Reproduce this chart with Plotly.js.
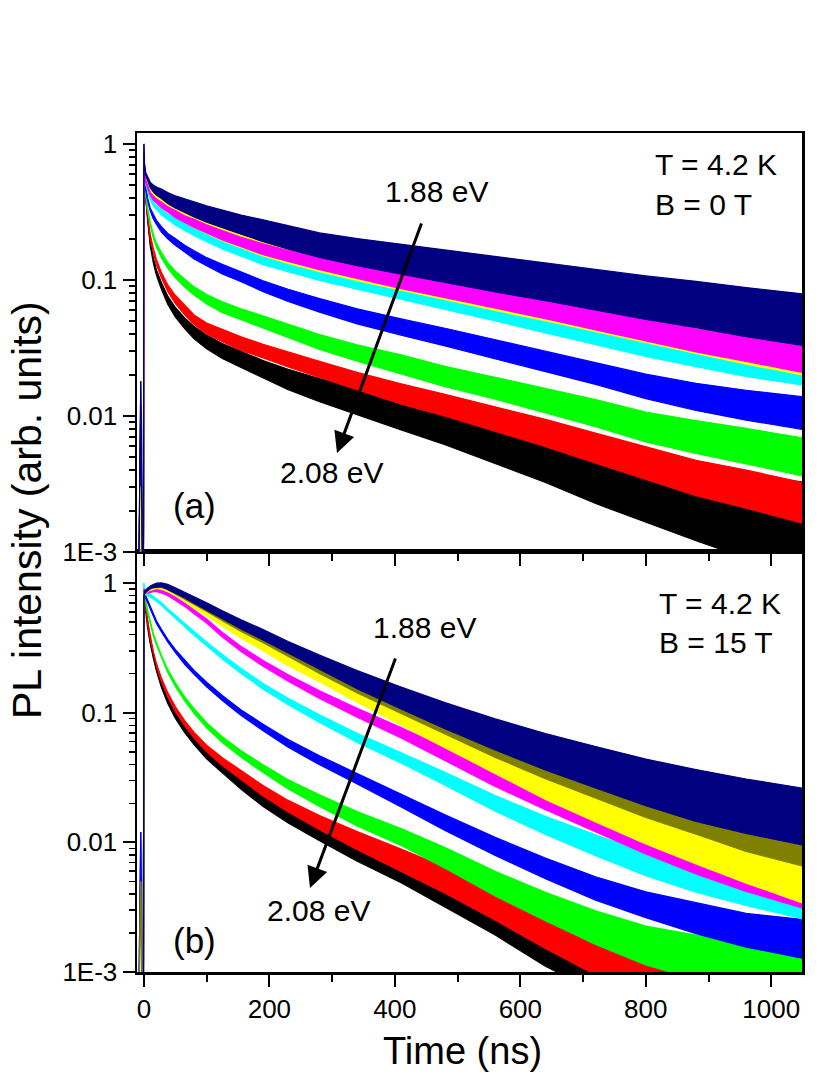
<!DOCTYPE html>
<html>
<head>
<meta charset="utf-8">
<script src="https://cdn.plot.ly/plotly-3.0.1.min.js"></script>
<style>html,body{margin:0;padding:0;background:#fff;}#chart{width:830px;height:1075px;}</style>
</head>
<body>
<div id="chart"></div>
<script>
// Time grid (ns)
const time = [-10, -5, -1, 0, 1, 3, 6, 10, 15, 20, 28, 38, 50, 65, 80, 100, 125, 155, 190, 230, 280, 340, 410, 480, 560, 640, 720, 800, 880, 960, 1050];

// Series labels (photon energy), 2.08 eV ... 1.88 eV
const energies = ['2.08 eV', '2.055 eV', '2.03 eV', '2.005 eV', '1.98 eV', '1.955 eV', '1.93 eV', '1.905 eV', '1.88 eV'];
const colors = ['#000000', '#FF0000', '#00FF00', '#0000FF', '#00FFFF', '#FF00FF', '#FFFF00', '#808000', '#000080'];

// ---------- Panel (a): B = 0 T, mean PL intensity ----------
const a_black   = [1e-4, 1e-4, 1e-4, 0.65, 0.5, 0.4, 0.27, 0.185, 0.14, 0.113, 0.09, 0.071, 0.058, 0.048, 0.041, 0.035, 0.03, 0.026, 0.022, 0.0185, 0.0155, 0.0128, 0.0103, 0.0083, 0.0063, 0.0048, 0.0036, 0.0028, 0.0022, 0.0018, 0.0015];
const a_red     = [1e-4, 1e-4, 1e-4, 0.65, 0.5, 0.41, 0.29, 0.21, 0.165, 0.135, 0.108, 0.087, 0.072, 0.06, 0.051, 0.044, 0.039, 0.034, 0.03, 0.026, 0.022, 0.018, 0.0145, 0.012, 0.0095, 0.0075, 0.0058, 0.0045, 0.0035, 0.0029, 0.0023];
const a_green   = [1e-4, 1e-4, 1e-4, 0.66, 0.52, 0.43, 0.33, 0.26, 0.21, 0.18, 0.152, 0.128, 0.11, 0.095, 0.083, 0.072, 0.063, 0.056, 0.049, 0.042, 0.035, 0.029, 0.024, 0.0195, 0.016, 0.013, 0.0105, 0.0083, 0.007, 0.006, 0.005];
const a_blue    = [1e-4, 0.012, 1e-4, 0.68, 0.55, 0.47, 0.39, 0.33, 0.29, 0.265, 0.235, 0.21, 0.19, 0.17, 0.153, 0.136, 0.12, 0.105, 0.09, 0.077, 0.065, 0.054, 0.045, 0.038, 0.031, 0.025, 0.0205, 0.0165, 0.0138, 0.012, 0.0105];
const a_cyan    = [1e-4, 1e-4, 1e-4, 0.7, 0.58, 0.51, 0.45, 0.4, 0.36, 0.34, 0.315, 0.29, 0.268, 0.245, 0.227, 0.205, 0.183, 0.162, 0.142, 0.126, 0.11, 0.096, 0.082, 0.07, 0.058, 0.048, 0.04, 0.033, 0.028, 0.024, 0.021];
const a_magenta = [1e-4, 1e-4, 1e-4, 0.75, 0.6, 0.53, 0.48, 0.43, 0.4, 0.38, 0.355, 0.33, 0.305, 0.28, 0.26, 0.237, 0.213, 0.19, 0.168, 0.15, 0.132, 0.115, 0.098, 0.085, 0.072, 0.061, 0.051, 0.043, 0.036, 0.031, 0.026];
const a_yellow  = [1e-4, 0.003, 1e-4, 0.78, 0.62, 0.55, 0.5, 0.45, 0.42, 0.4, 0.372, 0.345, 0.32, 0.294, 0.272, 0.248, 0.223, 0.2, 0.176, 0.157, 0.138, 0.12, 0.103, 0.089, 0.075, 0.064, 0.054, 0.045, 0.038, 0.032, 0.027];
const a_olive   = [1e-4, 1e-4, 1e-4, 0.85, 0.65, 0.57, 0.52, 0.47, 0.43, 0.41, 0.385, 0.36, 0.335, 0.31, 0.29, 0.265, 0.24, 0.215, 0.19, 0.168, 0.148, 0.13, 0.113, 0.099, 0.086, 0.074, 0.064, 0.055, 0.048, 0.042, 0.036];
const a_navy    = [1e-4, 0.018, 1e-4, 1.0, 0.7, 0.6, 0.55, 0.5, 0.47, 0.45, 0.43, 0.4, 0.375, 0.35, 0.33, 0.305, 0.28, 0.255, 0.23, 0.205, 0.18, 0.16, 0.142, 0.126, 0.11, 0.097, 0.085, 0.074, 0.066, 0.058, 0.051];

// Panel (a): noise band half-width (decades)
const a_black_n   = [0, 0, 0, 0, 0.01, 0.01, 0.01, 0.015, 0.02, 0.02, 0.025, 0.03, 0.035, 0.04, 0.045, 0.05, 0.055, 0.06, 0.065, 0.075, 0.085, 0.1, 0.115, 0.13, 0.15, 0.17, 0.2, 0.23, 0.26, 0.3, 0.34];
const a_red_n     = [0, 0, 0, 0, 0.01, 0.01, 0.01, 0.015, 0.015, 0.02, 0.02, 0.025, 0.03, 0.035, 0.035, 0.04, 0.045, 0.05, 0.05, 0.055, 0.06, 0.065, 0.075, 0.08, 0.09, 0.1, 0.11, 0.12, 0.13, 0.14, 0.15];
const a_green_n   = [0, 0, 0, 0, 0.01, 0.01, 0.01, 0.01, 0.015, 0.015, 0.02, 0.02, 0.025, 0.03, 0.03, 0.035, 0.04, 0.04, 0.045, 0.05, 0.055, 0.06, 0.07, 0.075, 0.08, 0.09, 0.1, 0.11, 0.12, 0.13, 0.14];
const a_blue_n    = [0, 0, 0, 0, 0.01, 0.01, 0.01, 0.01, 0.015, 0.015, 0.02, 0.02, 0.025, 0.025, 0.03, 0.03, 0.035, 0.035, 0.04, 0.045, 0.05, 0.055, 0.06, 0.065, 0.07, 0.075, 0.08, 0.09, 0.1, 0.11, 0.12];
const a_cyan_n    = [0, 0, 0, 0, 0.01, 0.01, 0.01, 0.01, 0.015, 0.015, 0.02, 0.02, 0.025, 0.025, 0.03, 0.03, 0.035, 0.035, 0.04, 0.04, 0.045, 0.05, 0.055, 0.06, 0.065, 0.07, 0.075, 0.08, 0.085, 0.09, 0.095];
const a_magenta_n = [0, 0, 0, 0, 0.01, 0.01, 0.01, 0.01, 0.015, 0.015, 0.02, 0.02, 0.025, 0.025, 0.03, 0.03, 0.035, 0.035, 0.04, 0.04, 0.045, 0.05, 0.055, 0.06, 0.065, 0.07, 0.075, 0.08, 0.085, 0.09, 0.095];
const a_yellow_n  = [0, 0, 0, 0, 0.01, 0.01, 0.01, 0.015, 0.02, 0.025, 0.03, 0.035, 0.04, 0.045, 0.05, 0.055, 0.06, 0.065, 0.07, 0.075, 0.08, 0.085, 0.09, 0.095, 0.1, 0.105, 0.11, 0.115, 0.12, 0.125, 0.13];
const a_olive_n   = [0, 0, 0, 0, 0.01, 0.01, 0.01, 0.015, 0.02, 0.025, 0.03, 0.035, 0.04, 0.045, 0.05, 0.055, 0.06, 0.065, 0.07, 0.075, 0.08, 0.085, 0.09, 0.095, 0.1, 0.11, 0.12, 0.13, 0.14, 0.15, 0.16];
const a_navy_n    = [0, 0, 0, 0, 0.01, 0.01, 0.015, 0.02, 0.025, 0.03, 0.035, 0.04, 0.045, 0.05, 0.055, 0.06, 0.065, 0.07, 0.08, 0.085, 0.09, 0.1, 0.11, 0.12, 0.13, 0.14, 0.15, 0.16, 0.17, 0.18, 0.19];

// ---------- Panel (b): B = 15 T, mean PL intensity ----------
const b_black   = [1e-4, 1e-4, 1e-4, 0.85, 0.76, 0.61, 0.46, 0.35, 0.27, 0.215, 0.162, 0.123, 0.095, 0.074, 0.06, 0.047, 0.037, 0.028, 0.021, 0.0158, 0.0118, 0.0085, 0.006, 0.0041, 0.0026, 0.0016, 0.0011, 0.0008, 0.0006, 0.0005, 0.0004];
const b_red     = [1e-4, 1e-4, 1e-4, 0.85, 0.78, 0.65, 0.5, 0.38, 0.29, 0.235, 0.18, 0.138, 0.107, 0.083, 0.067, 0.053, 0.042, 0.033, 0.025, 0.019, 0.0142, 0.0103, 0.0073, 0.0051, 0.0033, 0.0021, 0.0014, 0.001, 0.0008, 0.0007, 0.0006];
const b_green   = [1e-4, 1e-4, 1e-4, 0.85, 0.8, 0.71, 0.6, 0.49, 0.4, 0.34, 0.27, 0.21, 0.165, 0.128, 0.103, 0.08, 0.062, 0.048, 0.037, 0.028, 0.021, 0.0152, 0.011, 0.0076, 0.0048, 0.0032, 0.0022, 0.0016, 0.0013, 0.0011, 0.001];
const b_blue    = [1e-4, 0.012, 1e-4, 0.85, 0.82, 0.78, 0.72, 0.64, 0.56, 0.5, 0.43, 0.36, 0.3, 0.245, 0.205, 0.165, 0.13, 0.1, 0.077, 0.058, 0.043, 0.031, 0.021, 0.0142, 0.0093, 0.0063, 0.0044, 0.0033, 0.0026, 0.0021, 0.0018];
const b_cyan    = [1e-4, 1e-4, 1e-4, 1.0, 0.85, 0.83, 0.82, 0.8, 0.77, 0.74, 0.69, 0.62, 0.55, 0.47, 0.41, 0.34, 0.27, 0.21, 0.16, 0.122, 0.09, 0.064, 0.045, 0.031, 0.02, 0.0135, 0.0095, 0.0068, 0.0052, 0.0042, 0.0034];
const b_magenta = [1e-4, 1e-4, 1e-4, 0.9, 0.85, 0.85, 0.86, 0.87, 0.88, 0.88, 0.86, 0.82, 0.76, 0.68, 0.6, 0.51, 0.4, 0.31, 0.24, 0.185, 0.138, 0.1, 0.07, 0.048, 0.031, 0.021, 0.0145, 0.01, 0.0072, 0.0054, 0.0041];
const b_yellow  = [1e-4, 1e-4, 1e-4, 0.8, 0.83, 0.85, 0.88, 0.9, 0.92, 0.93, 0.92, 0.89, 0.83, 0.75, 0.67, 0.58, 0.49, 0.4, 0.32, 0.25, 0.19, 0.135, 0.092, 0.063, 0.041, 0.027, 0.0185, 0.0128, 0.0092, 0.0067, 0.0048];
const b_olive   = [1e-4, 0.005, 1e-4, 0.8, 0.84, 0.86, 0.89, 0.92, 0.94, 0.95, 0.95, 0.92, 0.86, 0.79, 0.72, 0.64, 0.55, 0.46, 0.38, 0.3, 0.228, 0.165, 0.117, 0.083, 0.057, 0.04, 0.029, 0.021, 0.016, 0.012, 0.0095];
const b_navy    = [1e-4, 1e-4, 1e-4, 0.8, 0.85, 0.87, 0.9, 0.93, 0.95, 0.965, 0.97, 0.935, 0.88, 0.81, 0.74, 0.66, 0.57, 0.48, 0.4, 0.32, 0.245, 0.18, 0.13, 0.095, 0.068, 0.05, 0.038, 0.029, 0.023, 0.019, 0.0158];

// Panel (b): noise band half-width (decades)
const b_black_n   = [0, 0, 0, 0, 0.01, 0.01, 0.01, 0.01, 0.01, 0.012, 0.015, 0.018, 0.02, 0.022, 0.025, 0.028, 0.032, 0.038, 0.045, 0.05, 0.06, 0.075, 0.09, 0.11, 0.13, 0.16, 0.19, 0.22, 0.26, 0.3, 0.34];
const b_red_n     = [0, 0, 0, 0, 0.01, 0.01, 0.01, 0.01, 0.01, 0.01, 0.012, 0.015, 0.018, 0.02, 0.022, 0.025, 0.03, 0.035, 0.04, 0.045, 0.055, 0.07, 0.085, 0.1, 0.12, 0.14, 0.17, 0.2, 0.23, 0.26, 0.3];
const b_green_n   = [0, 0, 0, 0, 0.01, 0.01, 0.01, 0.01, 0.01, 0.01, 0.01, 0.012, 0.015, 0.015, 0.018, 0.02, 0.022, 0.025, 0.03, 0.035, 0.045, 0.055, 0.065, 0.08, 0.095, 0.11, 0.13, 0.15, 0.17, 0.19, 0.21];
const b_blue_n    = [0, 0, 0, 0, 0.01, 0.01, 0.01, 0.01, 0.01, 0.01, 0.01, 0.01, 0.012, 0.015, 0.015, 0.018, 0.02, 0.022, 0.025, 0.03, 0.035, 0.04, 0.05, 0.06, 0.07, 0.08, 0.09, 0.1, 0.12, 0.13, 0.15];
const b_cyan_n    = [0, 0, 0, 0, 0.01, 0.01, 0.01, 0.01, 0.01, 0.01, 0.01, 0.01, 0.012, 0.012, 0.015, 0.015, 0.018, 0.02, 0.022, 0.025, 0.03, 0.035, 0.04, 0.05, 0.06, 0.07, 0.08, 0.09, 0.1, 0.11, 0.12];
const b_magenta_n = [0, 0, 0, 0, 0.01, 0.01, 0.01, 0.01, 0.01, 0.01, 0.01, 0.01, 0.012, 0.012, 0.015, 0.015, 0.018, 0.02, 0.022, 0.025, 0.03, 0.035, 0.04, 0.05, 0.06, 0.07, 0.08, 0.09, 0.1, 0.11, 0.12];
const b_yellow_n  = [0, 0, 0, 0, 0.01, 0.01, 0.01, 0.01, 0.01, 0.01, 0.01, 0.012, 0.015, 0.015, 0.018, 0.02, 0.022, 0.025, 0.03, 0.035, 0.04, 0.05, 0.06, 0.07, 0.085, 0.1, 0.11, 0.12, 0.13, 0.14, 0.15];
const b_olive_n   = [0, 0, 0, 0, 0.01, 0.01, 0.01, 0.01, 0.01, 0.01, 0.012, 0.015, 0.018, 0.02, 0.022, 0.025, 0.03, 0.035, 0.04, 0.045, 0.055, 0.065, 0.075, 0.085, 0.1, 0.11, 0.12, 0.13, 0.14, 0.15, 0.16];
const b_navy_n    = [0, 0, 0, 0, 0.01, 0.01, 0.01, 0.01, 0.012, 0.015, 0.015, 0.02, 0.02, 0.022, 0.025, 0.028, 0.03, 0.035, 0.04, 0.045, 0.055, 0.07, 0.085, 0.1, 0.12, 0.14, 0.16, 0.18, 0.2, 0.21, 0.22];

// Axis ticks
const xTickVals = [0, 200, 400, 600, 800, 1000];
const xTickText = ['0', '200', '400', '600', '800', '1000'];
const xMinorVals = [100, 300, 500, 700, 900];
const yTickVals = [0.001, 0.01, 0.1, 1];
const yTickText = ['1E-3', '0.01', '0.1', '1'];
const yMinorVals = [0.002, 0.003, 0.004, 0.005, 0.006, 0.007, 0.008, 0.009,
                    0.02, 0.03, 0.04, 0.05, 0.06, 0.07, 0.08, 0.09,
                    0.2, 0.3, 0.4, 0.5, 0.6, 0.7, 0.8, 0.9];

// Drawing order (index into colors / energies) for each panel
const panelA = [[0, a_black, a_black_n], [1, a_red, a_red_n], [2, a_green, a_green_n], [3, a_blue, a_blue_n],
                [4, a_cyan, a_cyan_n], [7, a_olive, a_olive_n], [6, a_yellow, a_yellow_n],
                [5, a_magenta, a_magenta_n], [8, a_navy, a_navy_n]];
const panelB = [[0, b_black, b_black_n], [1, b_red, b_red_n], [2, b_green, b_green_n], [3, b_blue, b_blue_n],
                [4, b_cyan, b_cyan_n], [5, b_magenta, b_magenta_n], [6, b_yellow, b_yellow_n],
                [7, b_olive, b_olive_n], [8, b_navy, b_navy_n]];

const traces = [];
function addPanel(list, xa, ya) {
  list.forEach(([ci, v, n]) => {
    const lo = v.map((y, j) => y * Math.pow(10, -n[j]));
    const hi = v.map((y, j) => y * Math.pow(10, n[j]));
    traces.push({x: time, y: lo, xaxis: xa, yaxis: ya, type: 'scatter', mode: 'lines',
      line: {color: colors[ci], width: 1.2}, showlegend: false, hoverinfo: 'skip', name: energies[ci]});
    traces.push({x: time, y: hi, xaxis: xa, yaxis: ya, type: 'scatter', mode: 'lines', fill: 'tonexty',
      fillcolor: colors[ci], line: {color: colors[ci], width: 1.2}, showlegend: false, name: energies[ci]});
  });
}
addPanel(panelA, 'x2', 'y2');
addPanel(panelB, 'x', 'y');

const FONT = 'Liberation Sans, Arial, sans-serif';
const split = 0.5006;
const xBase = {
  range: [-11, 1049], showline: true, linewidth: 2.5, linecolor: '#000', mirror: true,
  ticks: 'outside', ticklen: 12, tickwidth: 2, tickcolor: '#000',
  tickmode: 'array', tickvals: xTickVals, ticktext: xTickText,
  minor: {tickvals: xMinorVals, ticks: 'outside', ticklen: 7, tickwidth: 2, tickcolor: '#000', showgrid: false},
  showgrid: false, zeroline: false, tickfont: {family: FONT, size: 26, color: '#000'}
};
const yBase = {
  type: 'log', showline: true, linewidth: 2.5, linecolor: '#000', mirror: true,
  ticks: 'outside', ticklen: 12, tickwidth: 2, tickcolor: '#000',
  tickmode: 'array', tickvals: yTickVals, ticktext: yTickText,
  minor: {tickvals: yMinorVals, ticks: 'outside', ticklen: 6, tickwidth: 1.5, tickcolor: '#000', showgrid: false},
  showgrid: false, zeroline: false, tickfont: {family: FONT, size: 26, color: '#000'}
};

function ann(text, x, y, size, xanchor) {
  return {text: text, xref: 'paper', yref: 'paper', x: x, y: y, showarrow: false,
    xanchor: xanchor || 'center', yanchor: 'middle', font: {family: FONT, size: size, color: '#000'}};
}
function px2x(p) { return (p - 137) / 665; }
function px2y(p) { return (972 - p) / 839; }

const annotations = [
  ann('T = 4.2 K', px2x(653), px2y(165), 30, 'left'),
  ann('B = 0 T', px2x(653), px2y(204), 30, 'left'),
  ann('T = 4.2 K', px2x(657), px2y(603), 30, 'left'),
  ann('B = 15 T', px2x(657), px2y(642), 30, 'left'),
  ann('1.88 eV', px2x(436.5), px2y(192), 30),
  ann('2.08 eV', px2x(331.5), px2y(472), 30),
  ann('1.88 eV', px2x(424.5), px2y(627), 30),
  ann('2.08 eV', px2x(318.5), px2y(910), 30),
  ann('(a)', px2x(194), px2y(505), 35),
  ann('(b)', px2x(194), px2y(940), 35),
  {text: 'PL intensity (arb. units)', xref: 'paper', yref: 'paper', x: px2x(27), y: px2y(510),
    showarrow: false, textangle: -90, xanchor: 'center', yanchor: 'middle',
    font: {family: FONT, size: 41, color: '#000'}},
  {text: 'Time (ns)', xref: 'paper', yref: 'paper', x: px2x(462), y: px2y(1051),
    showarrow: false, xanchor: 'center', yanchor: 'middle',
    font: {family: FONT, size: 38, color: '#000'}},
  {text: '', xref: 'paper', yref: 'paper', x: px2x(337), y: px2y(453), showarrow: true,
    ax: 85, ay: -231, arrowhead: 2, arrowsize: 1.4, arrowwidth: 3, arrowcolor: '#000', standoff: 0},
  {text: '', xref: 'paper', yref: 'paper', x: px2x(310), y: px2y(888), showarrow: true,
    ax: 86, ay: -231, arrowhead: 2, arrowsize: 1.4, arrowwidth: 3, arrowcolor: '#000', standoff: 0}
];

const layout = {
  width: 830, height: 1075,
  margin: {l: 137, r: 28, t: 133, b: 103},
  paper_bgcolor: '#fff', plot_bgcolor: '#fff',
  showlegend: false,
  xaxis: Object.assign({}, xBase, {domain: [0, 1], anchor: 'y'}),
  yaxis: Object.assign({}, yBase, {domain: [0, split], range: [-3, 0.24], anchor: 'x'}),
  xaxis2: Object.assign({}, xBase, {domain: [0, 1], anchor: 'y2', showticklabels: false, matches: 'x'}),
  yaxis2: Object.assign({}, yBase, {domain: [split, 1], range: [-3, 0.08], anchor: 'x2'}),
  annotations: annotations
};

Plotly.newPlot('chart', traces, layout, {displayModeBar: false, staticPlot: true});
</script>
</body>
</html>
